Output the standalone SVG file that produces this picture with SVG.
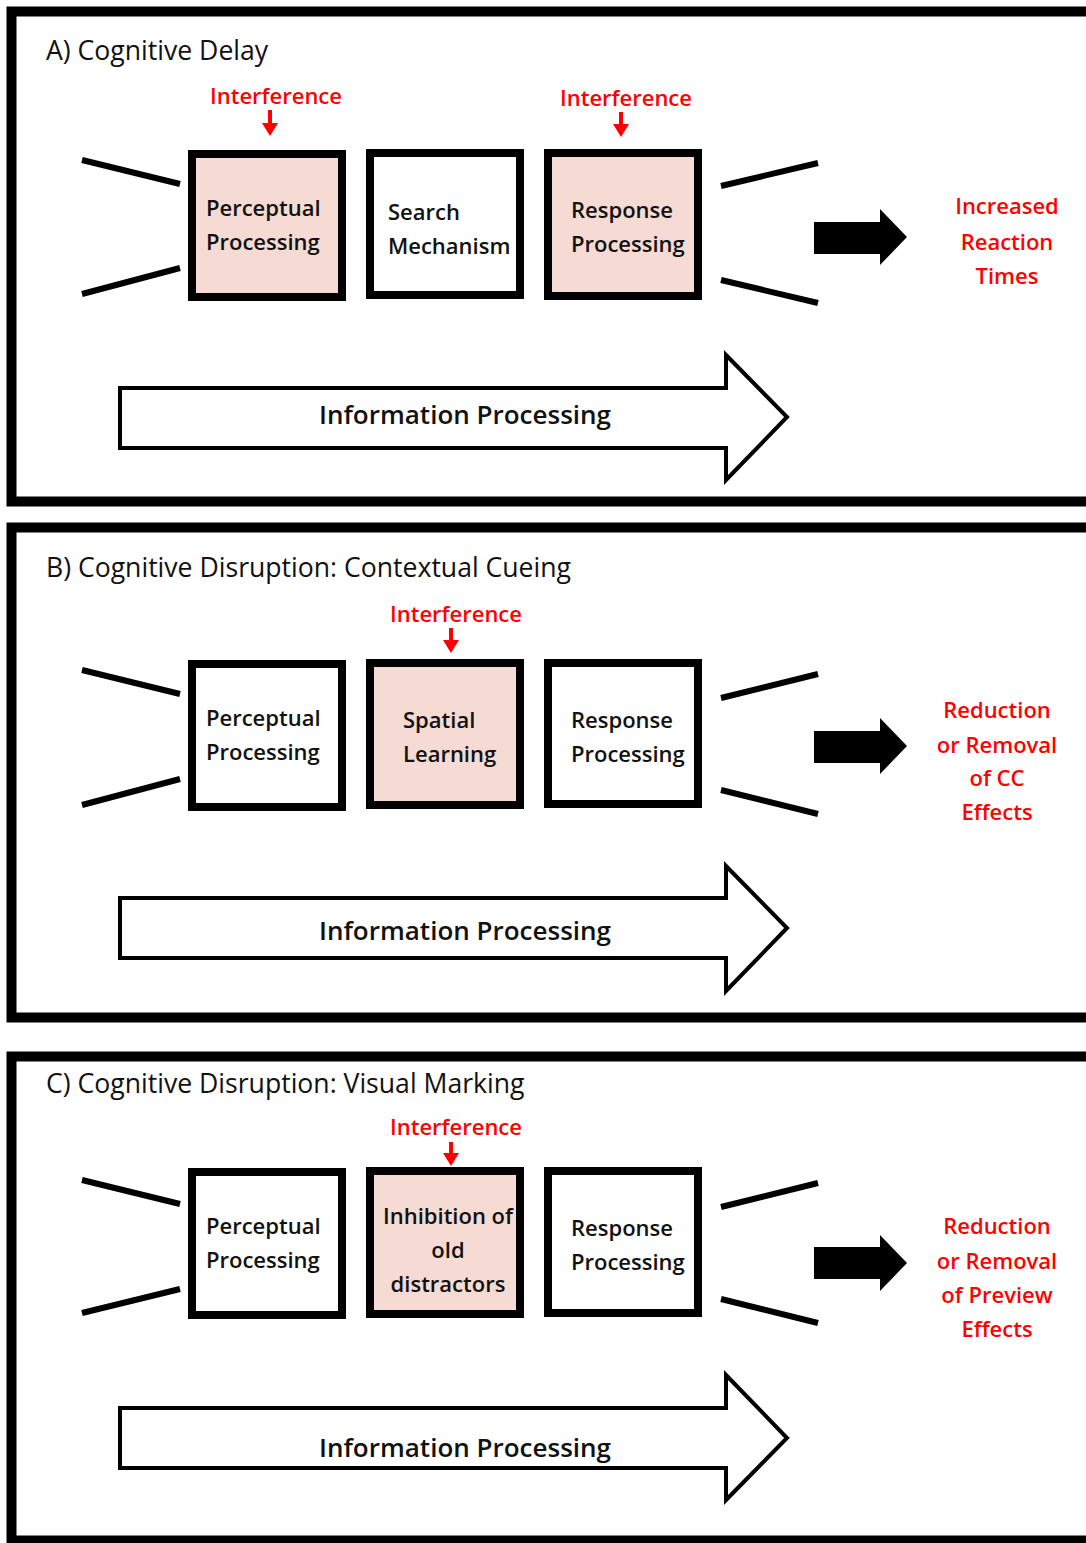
<svg xmlns="http://www.w3.org/2000/svg" width="1086" height="1543" viewBox="0 0 1086 1543">
<style>
.frame{fill:none;stroke:#000;stroke-width:10}
.box{stroke:#000;stroke-width:8}
.pink{fill:#f5dbd3}
.white{fill:#fff}
.t{font-family:"Open Sans","Liberation Sans",sans-serif;font-size:22px;fill:#111;font-weight:600}
.title{font-size:26.6px;font-weight:normal}
.infot{font-size:26px}
.red{fill:#ff0000}
.mid{text-anchor:middle}
.funnel{stroke:#000;stroke-width:6;fill:none}
.info{fill:#fff;stroke:#000;stroke-width:4}
.blk{fill:#000}
.ia{fill:#ff0000}
</style>
<rect width="1086" height="1543" fill="#fff"/>

<!-- Panel A -->
<g id="panelA">
<rect class="frame" x="11.5" y="11.5" width="1100" height="490"/>
<text class="t title" x="46" y="60">A) Cognitive Delay</text>
</g>
<g id="A-perceptual">
<rect class="box pink" x="192" y="154" width="150" height="143"/>
<text class="t" x="206" y="216">Perceptual</text>
<text class="t" x="206" y="250">Processing</text>
</g>
<g id="A-search">
<rect class="box white" x="370" y="153" width="150" height="142"/>
<text class="t" x="388" y="220">Search</text>
<text class="t" x="388" y="254">Mechanism</text>
</g>
<g id="A-response">
<rect class="box pink" x="548" y="153" width="150" height="143"/>
<text class="t" x="571" y="218">Response</text>
<text class="t" x="571" y="252">Processing</text>
</g>
<g id="A-interf1"><text class="t red mid" x="276" y="104">Interference</text></g>
<g id="A-interf2"><text class="t red mid" x="626" y="106">Interference</text></g>
<g id="A-result">
<text class="t red mid" x="1007" y="214">Increased</text>
<text class="t red mid" x="1007" y="250">Reaction</text>
<text class="t red mid" x="1007" y="284">Times</text>
</g>
<g id="A-info">
<path class="info" d="M120,388 H726 V355 L787,417 L726,480 V448 H120 Z"/>
<text class="t infot mid" x="465" y="424">Information Processing</text>
</g>

<!-- Panel B -->
<g id="panelB">
<rect class="frame" x="11.5" y="527.5" width="1100" height="490"/>
<text class="t title" x="46" y="577">B) Cognitive Disruption: Contextual Cueing</text>
</g>
<g id="B-perceptual">
<rect class="box white" x="192" y="664" width="150" height="143"/>
<text class="t" x="206" y="726">Perceptual</text>
<text class="t" x="206" y="760">Processing</text>
</g>
<g id="B-spatial">
<rect class="box pink" x="370" y="663" width="150" height="142"/>
<text class="t" x="403" y="728">Spatial</text>
<text class="t" x="403" y="762">Learning</text>
</g>
<g id="B-response">
<rect class="box white" x="548" y="663" width="150" height="141"/>
<text class="t" x="571" y="728">Response</text>
<text class="t" x="571" y="762">Processing</text>
</g>
<g id="B-interf"><text class="t red mid" x="456" y="622">Interference</text></g>
<g id="B-result">
<text class="t red mid" x="997" y="718">Reduction</text>
<text class="t red mid" x="997" y="753">or Removal</text>
<text class="t red mid" x="997" y="786">of CC</text>
<text class="t red mid" x="997" y="820">Effects</text>
</g>
<g id="B-info">
<path class="info" d="M120,898 H726 V866 L787,928 L726,991 V958 H120 Z"/>
<text class="t infot mid" x="465" y="940">Information Processing</text>
</g>

<!-- Panel C -->
<g id="panelC">
<rect class="frame" x="11.5" y="1056.5" width="1100" height="484"/>
<text class="t title" x="46" y="1093">C) Cognitive Disruption: Visual Marking</text>
</g>
<g id="C-perceptual">
<rect class="box white" x="192" y="1172" width="150" height="143"/>
<text class="t" x="206" y="1234">Perceptual</text>
<text class="t" x="206" y="1268">Processing</text>
</g>
<g id="C-inhibition">
<rect class="box pink" x="370" y="1171" width="150" height="143"/>
<text class="t mid" x="448" y="1224">Inhibition of</text>
<text class="t mid" x="448" y="1258">old</text>
<text class="t mid" x="448" y="1292">distractors</text>
</g>
<g id="C-response">
<rect class="box white" x="548" y="1171" width="150" height="142"/>
<text class="t" x="571" y="1236">Response</text>
<text class="t" x="571" y="1270">Processing</text>
</g>
<g id="C-interf"><text class="t red mid" x="456" y="1135">Interference</text></g>
<g id="C-result">
<text class="t red mid" x="997" y="1234">Reduction</text>
<text class="t red mid" x="997" y="1269">or Removal</text>
<text class="t red mid" x="997" y="1303">of Preview</text>
<text class="t red mid" x="997" y="1337">Effects</text>
</g>
<g id="C-info">
<path class="info" d="M120,1408 H726 V1375 L787,1438 L726,1500 V1468 H120 Z"/>
<text class="t infot mid" x="465" y="1457">Information Processing</text>
</g>

<g id="connectors">
<!-- A -->
<path class="funnel" d="M82,160 L180,184 M82,294 L180,268 M721,186 L818,163 M721,280 L818,303"/>
<path class="blk" d="M814,222 H880 V209 L907,237 L880,265 V254 H814 Z"/>
<path class="ia" d="M268,110 h4 v13 h6 l-8,13 l-8,-13 h6 Z"/>
<path class="ia" d="M619,112 h4 v12 h6 l-8,13 l-8,-13 h6 Z"/>
<!-- B -->
<path class="funnel" d="M82,670 L180,694 M82,805 L180,779 M721,698 L818,674 M721,790 L818,814"/>
<path class="blk" d="M814,731 H880 V718 L907,746 L880,774 V763 H814 Z"/>
<path class="ia" d="M449,628 h4 v12 h6 l-8,13 l-8,-13 h6 Z"/>
<!-- C -->
<path class="funnel" d="M82,1180 L180,1204 M82,1313 L180,1289 M721,1207 L818,1183 M721,1299 L818,1323"/>
<path class="blk" d="M814,1247 H880 V1235 L907,1263 L880,1291 V1279 H814 Z"/>
<path class="ia" d="M449,1142 h4 v11 h6 l-8,13 l-8,-13 h6 Z"/>
</g>
</svg>
